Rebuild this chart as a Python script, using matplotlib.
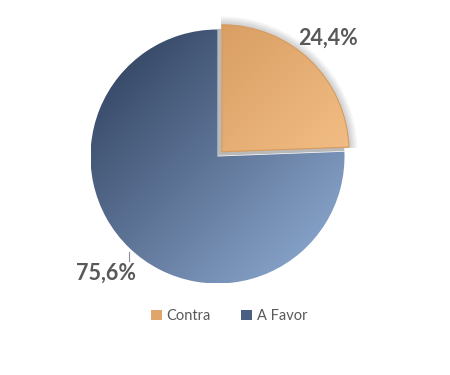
import numpy as np
import matplotlib
matplotlib.use("Agg")
import matplotlib.pyplot as plt
from matplotlib.colors import LinearSegmentedColormap
from matplotlib.patches import Wedge

labels = ["Contra", "A Favor"]
values = [24.4, 75.6]
pct_labels = ["24,4%", "75,6%"]
dark_cols = ["#cc8f52", "#2b3b58"]
light_cols = ["#ffcd96", "#93b0d8"]
legend_cols = ["#e0a56a", "#4a5f82"]

plt.rcParams['font.family'] = ['Lato', 'DejaVu Sans']
txt_col = "#595959"

fig = plt.figure(figsize=(4.5, 3.75), dpi=100)
ax = fig.add_axes([0, 0, 1, 1])

cx, cy, r = 217.5, 218.5, 127
wedges, _ = ax.pie(values, center=(cx, cy), radius=r, startangle=90,
                   counterclock=False, explode=[6.5, 0],
                   wedgeprops=dict(linewidth=0))
ax.set_xlim(0, 450)
ax.set_ylim(0, 375)
ax.set_aspect("equal")
ax.axis("off")


def fill_gradient(w, c0, c1):
    cmap = LinearSegmentedColormap.from_list("g", [c0, c1])
    x0, y0 = w.center[0] - w.r, w.center[1] - w.r
    x1, y1 = w.center[0] + w.r, w.center[1] + w.r
    xx, yy = np.meshgrid(np.linspace(0, 1, 200), np.linspace(0, 1, 200))
    t = (xx + yy) / 2
    im = ax.imshow(t, cmap=cmap, extent=(x0, x1, y0, y1), origin="upper",
                   vmin=0, vmax=1, zorder=w.get_zorder() + 0.1,
                   interpolation="bilinear")
    im.set_clip_path(w)
    w.set_facecolor("none")


# soft shadow + hard shadow behind the exploded slice
w0 = wedges[0]
base_z = w0.get_zorder()
for k in range(6):
    ax.add_patch(Wedge((w0.center[0] - 1, w0.center[1] - 1), w0.r + 2 + 1.5 * k,
                       w0.theta1, w0.theta2, facecolor="#000000",
                       alpha=0.035, linewidth=0, zorder=base_z + 0.02))
ax.add_patch(Wedge((w0.center[0] - 4.5, w0.center[1] - 4), w0.r, w0.theta1,
                   w0.theta2, facecolor="#b9b9b9", linewidth=0,
                   zorder=base_z + 0.05))
for i, w in enumerate(wedges):
    fill_gradient(w, dark_cols[i], light_cols[i])
w0.set_zorder(base_z + 0.5)
w0.set_edgecolor("#d99a5c")
w0.set_linewidth(0.8)

ax.text(328, 337, pct_labels[0], fontsize=15.5, fontweight="bold",
        color=txt_col, ha="center", va="center")
ax.text(106, 102, pct_labels[1], fontsize=15.5, fontweight="bold",
        color=txt_col, ha="center", va="center")
ax.plot([129, 129], [114, 123], color="#8c8c8c", lw=0.8)

leg = ax.legend(wedges, labels, loc="center", bbox_to_anchor=(229 / 450, 59 / 375),
                ncol=2, frameon=False, fontsize=10.5, handlelength=0.75,
                handleheight=0.75, columnspacing=2.1, handletextpad=0.3,
                labelcolor=txt_col)
for h, c in zip(leg.legend_handles, legend_cols):
    h.set_facecolor(c)
    h.set_edgecolor("none")

fig.savefig("out.png", dpi=100)
